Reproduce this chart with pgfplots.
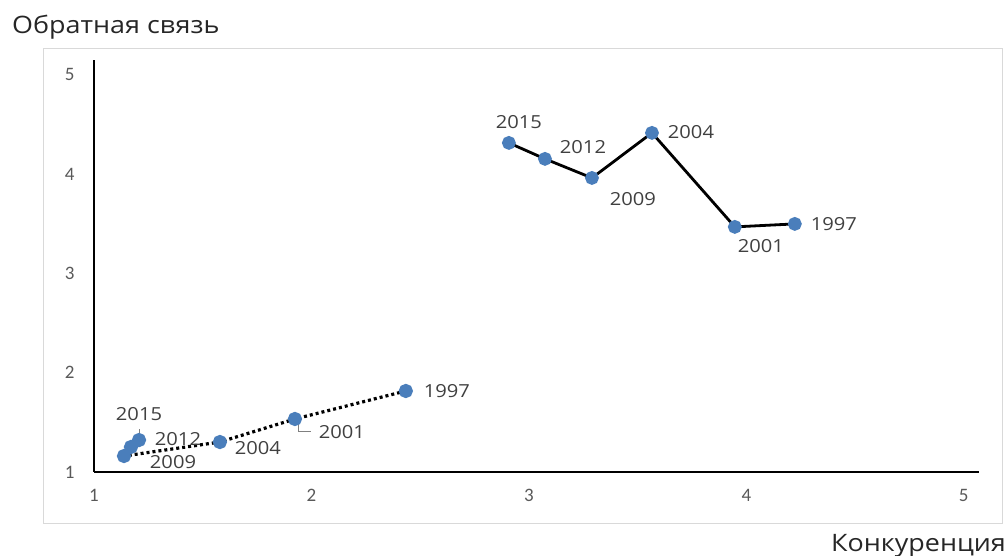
\documentclass[border=0pt]{standalone}
\usepackage{fontspec}
\setmainfont{Open Sans}
\newfontfamily\wide[FakeStretch=1.12]{Open Sans}
\newfontfamily\carlito{Carlito}
\usepackage{pgfplots}
\usepackage{pgfplotstable}
\pgfplotsset{compat=1.18}
\definecolor{ptblue}{HTML}{4A7EBB}
\definecolor{lblgray}{HTML}{404040}
\definecolor{tickgray}{HTML}{595959}
\definecolor{boxgray}{HTML}{D9D9D9}

\pgfplotstableread{
x y lab dx dy
2.908 4.315 2015 10 21
3.074 4.154 2012 38 12
3.290 3.962 2009 41 -21
3.566 4.416 2004 39 1
3.947 3.469 2001 26 -19
4.223 3.499 1997 39 0
}\uptab

\pgfplotstableread{
x y lab dx dy
2.434 1.816 1997 41 0
1.924 1.534 2001 47 -13
1.579 1.302 2004 38 -6
1.138 1.161 2009 49 -6
1.170 1.252 2012 47 8
1.207 1.322 2015 0 26
}\lowtab

\begin{document}
\begin{tikzpicture}[x=1pt,y=1pt]
\path[use as bounding box] (-94,-84) rectangle (914,472);
\draw[boxgray, line width=0.9pt] (-51,424) rectangle (908,-51);
\begin{axis}[
  at={(0,0)}, anchor=origin,
  scale only axis,
  width=885pt, height=412pt,
  xmin=1, xmax=5.07, ymin=1, ymax=5.15,
  xtick={1,2,3,4,5}, ytick={1,2,3,4,5},
  axis x line=bottom, axis y line=left,
  axis line style={line width=2.8pt, -, black},
  major tick length=0pt,
  /pgf/number format/assume math mode=true,
  tick label style={font=\carlito\fontsize{19}{22}\selectfont, text=tickgray},
  xticklabel style={yshift=-14pt},
  yticklabel style={xshift=-16pt},
  clip=false,
  point meta=explicit symbolic,
  nodes near coords,
  visualization depends on={\thisrow{dx} \as \dx},
  visualization depends on={\thisrow{dy} \as \dy},
  every node near coord/.append style={anchor=center, inner sep=0pt,
     xshift=\dx pt, yshift=\dy pt, text=lblgray, font=\wide\fontsize{18}{21}\selectfont},
]
\addplot[black, line width=2.8pt, mark=*, mark size=5.5pt,
  mark options={fill=ptblue, draw=ptblue, solid}]
  table[x=x, y=y, meta=lab] {\uptab};
\addplot[black, line width=3.2pt, dash pattern=on 3pt off 3pt, mark=*, mark size=5.5pt,
  mark options={fill=ptblue, draw=ptblue, solid}]
  table[x=x, y=y, meta=lab] {\lowtab};
\draw[gray, line width=0.7pt] (axis cs:1.207,1.43) -- (axis cs:1.207,1.36);
\draw[gray, line width=0.7pt] (axis cs:1.94,1.49) -- (axis cs:1.94,1.41) -- (axis cs:2.0,1.41);
\end{axis}
\node[anchor=base west, inner sep=0pt, text=black!85, font=\wide\fontsize{24}{28}\selectfont] at (-82,438) {Обратная связь};
\node[anchor=base east, inner sep=0pt, text=black!85, font=\wide\fontsize{24}{28}\selectfont] at (912,-79) {Конкуренция};
\end{tikzpicture}
\end{document}
